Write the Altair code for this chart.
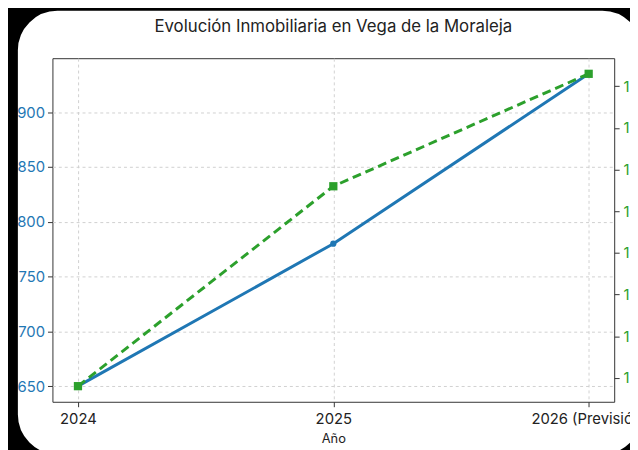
import altair as alt
import pandas as pd

# ---- data ----
years = ["2024", "2025", "2026 (Previsión)"]
blue_vals = [650, 780, 935]          # left axis (blue, solid, circles)
green_vals = [1190, 1430, 1565]      # right axis (green, dashed, squares)
left_ticks = [650, 700, 750, 800, 850, 900]
right_ticks = [1200, 1250, 1300, 1350, 1400, 1450, 1500, 1550]

title_text = "Evolución Inmobiliaria en Vega de la Moraleja"

df = pd.DataFrame({"Año": years, "blue": blue_vals, "green": green_vals})

FONT = "Inter"
BLUE = "#1f77b4"
GREEN = "#2ca02c"

# matplotlib-like 5% margins
def margins(vals):
    lo, hi = min(vals), max(vals)
    r = hi - lo
    return [lo - 0.05 * r, hi + 0.05 * r]

x_enc = alt.X(
    "Año:N", sort=years,
    scale=alt.Scale(type="point", padding=0.1),
    axis=alt.Axis(
        title="Año", labelAngle=0, domain=False,
        grid=True, gridDash=[3, 3], gridColor="#d0d0d0",
        tickColor="#333333", tickSize=5, tickWidth=1,
        labelFont=FONT, labelFontSize=15, labelColor="#222222", labelPadding=5,
        titleFont=FONT, titleFontSize=13, titleFontWeight="normal",
        titleColor="#222222", titlePadding=6,
    ),
)

blue = alt.Chart(df).mark_line(
    color=BLUE, strokeWidth=3,
    point=alt.OverlayMarkDef(filled=True, size=40, color=BLUE),
).encode(
    x=x_enc,
    y=alt.Y(
        "blue:Q",
        scale=alt.Scale(domain=margins(blue_vals), nice=False, zero=False),
        axis=alt.Axis(
            orient="left", title=None, values=left_ticks, domain=False,
            grid=True, gridDash=[3, 3], gridColor="#d0d0d0",
            tickColor="#333333", tickSize=5, tickWidth=1,
            labelFont=FONT, labelFontSize=15, labelColor=BLUE, labelPadding=3,
        ),
    ),
)

green = alt.Chart(df).mark_line(
    color=GREEN, strokeWidth=3, strokeDash=[9, 5],
    point=alt.OverlayMarkDef(filled=True, shape="square", size=70, color=GREEN),
).encode(
    x=alt.X("Año:N", sort=years),
    y=alt.Y(
        "green:Q",
        scale=alt.Scale(domain=margins(green_vals), nice=False, zero=False),
        axis=alt.Axis(
            orient="right", title=None, values=right_ticks, domain=False,
            format="d",
            grid=False, tickColor="#333333", tickSize=5, tickWidth=1,
            labelFont=FONT, labelFontSize=15, labelColor=GREEN, labelPadding=4,
        ),
    ),
)

# black rounded photo frame around the white card
frame = alt.Chart(alt.Data(values=[{}])).mark_rect(
    filled=False, stroke="black", strokeWidth=60, cornerRadius=70,
).encode(
    x=alt.value(-65), x2=alt.value(627),
    y=alt.value(-78), y2=alt.value(431),
)

chart = alt.layer(blue, green, frame).resolve_scale(y="independent").properties(
    width=569,
    height=348,
    padding={"left": 45, "top": 48, "right": 16, "bottom": 46},
    autosize=alt.AutoSizeParams(type="none"),
    background="white",
    title=alt.Title(
        title_text, font=FONT, fontSize=17, fontWeight="normal",
        color="#222222", offset=-85,
    ),
).configure_view(stroke="#333333", strokeWidth=1)

chart.save("out.html", embed_options={"renderer": "svg", "actions": False})
